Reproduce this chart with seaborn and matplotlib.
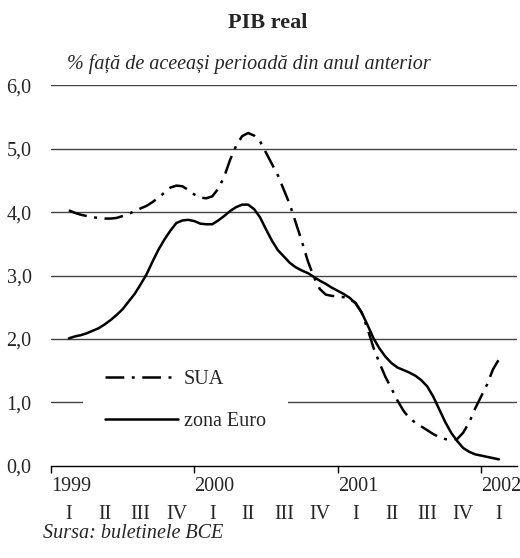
import numpy as np
import pandas as pd
import seaborn as sns
from matplotlib import pyplot as plt

# half-monthly readings, mid-Feb 1999 .. mid-Feb 2002
step_index = np.arange(73)
sua = [4.03, 3.99, 3.96, 3.94, 3.92, 3.91, 3.90, 3.90, 3.91, 3.94,
       3.97, 4.02, 4.06, 4.10, 4.16, 4.23, 4.31, 4.39, 4.42, 4.41,
       4.35, 4.28, 4.23, 4.22, 4.25, 4.37, 4.56, 4.83, 5.05, 5.20,
       5.25, 5.21, 5.12, 4.94, 4.76, 4.58, 4.35, 4.12, 3.83, 3.54,
       3.23, 2.98, 2.79, 2.70, 2.68, 2.67, 2.66, 2.63, 2.57, 2.42,
       2.16, 1.86, 1.62, 1.40, 1.22, 1.03, 0.87, 0.75, 0.68, 0.62,
       0.56, 0.50, 0.45, 0.42, 0.41, 0.42, 0.52, 0.68, 0.90, 1.09,
       1.28, 1.52, 1.68]
euro = [2.01, 2.04, 2.06, 2.09, 2.13, 2.17, 2.23, 2.30, 2.38, 2.47,
        2.59, 2.71, 2.86, 3.02, 3.22, 3.41, 3.57, 3.71, 3.83, 3.87,
        3.88, 3.86, 3.82, 3.81, 3.81, 3.87, 3.94, 4.02, 4.08, 4.12,
        4.12, 4.05, 3.92, 3.73, 3.55, 3.40, 3.30, 3.20, 3.13, 3.08,
        3.04, 2.98, 2.92, 2.87, 2.81, 2.76, 2.71, 2.65, 2.56, 2.42,
        2.22, 2.01, 1.85, 1.72, 1.62, 1.55, 1.51, 1.47, 1.42, 1.35,
        1.25, 1.09, 0.89, 0.69, 0.52, 0.39, 0.28, 0.22, 0.18, 0.16,
        0.14, 0.12, 0.10]
years = [1999, 2000, 2001, 2002]
quarter_labels = ["I", "II", "III", "IV"] * 3 + ["I"]
y_ticks = [0, 1, 2, 3, 4, 5, 6]

time = 1999.125 + step_index / 24
df = pd.concat([
    pd.DataFrame({"t": time, "v": sua, "serie": "SUA"}),
    pd.DataFrame({"t": time, "v": euro, "serie": "zona Euro"}),
])

sns.set_style("white")
plt.rcParams["font.family"] = ["Liberation Serif", "DejaVu Serif"]

fig = plt.figure(figsize=(5.2, 5.58), dpi=100)
ax = fig.add_axes([0.098, 0.1654, 0.896, 0.6814])

for y in y_ticks[1:]:
    ax.axhline(y, color="#444444", lw=1.0, zorder=1)

sns.lineplot(data=df, x="t", y="v", style="serie", color="black",
             dashes={"SUA": (7.5, 3, 1.2, 3), "zona Euro": ""},
             lw=1.8, ax=ax, zorder=3)

ax.set_xlim(1999, 2002.25)
ax.set_ylim(0, 6)
ax.set_yticks(y_ticks)
ax.set_yticklabels([f"{v:.1f}".replace(".", ",") for v in y_ticks])
ax.tick_params(axis="y", length=0, pad=14, labelsize=14.5)

ax.set_xticks(years)
ax.set_xticklabels([str(y) for y in years], ha="left")
ax.set_xticks([1999.125 + 0.25 * i for i in range(13)], minor=True)
ax.set_xticklabels(quarter_labels, minor=True)
ax.tick_params(axis="x", which="major", direction="out", length=5, width=1,
               color="black", pad=3, labelsize=14.5, bottom=True)
ax.tick_params(axis="x", which="minor", length=0, pad=28, labelsize=14.5)
ax.set_xlabel("")
ax.set_ylabel("")

for side in ["left", "right", "top"]:
    ax.spines[side].set_visible(False)
ax.spines["bottom"].set_color("black")
ax.spines["bottom"].set_linewidth(1.0)

leg = ax.legend(loc="upper left", bbox_to_anchor=(0.0687, 0.31), fontsize=14.5,
                handlelength=3.6, handletextpad=0.3, labelspacing=1.15,
                frameon=True, borderpad=1.1, borderaxespad=0)
leg.get_frame().set_facecolor("white")
leg.get_frame().set_edgecolor("none")
leg.get_frame().set_alpha(1)
leg.get_frame().set_boxstyle("square", pad=0)
leg.set_zorder(2)

fig.text(267.5 / 520, 1 - 23 / 558, "PIB real", ha="center", va="center",
         fontsize=16, fontweight="bold")
fig.text(67 / 520, 1 - 64 / 558, "% față de aceeași perioadă din anul anterior",
         ha="left", va="center", fontsize=14.5, style="italic")
fig.text(43 / 520, 1 - 534 / 558, "Sursa: buletinele BCE", ha="left",
         va="center", fontsize=14.5, style="italic")

fig.savefig("out.png", dpi=100)
